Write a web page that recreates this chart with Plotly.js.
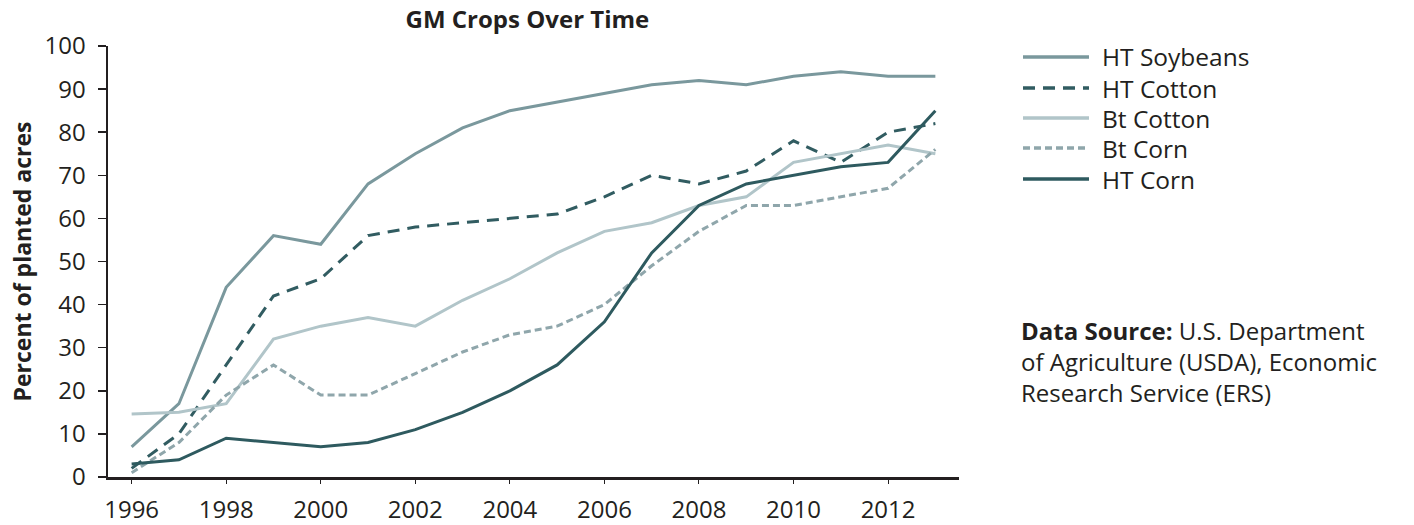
<!DOCTYPE html>
<html>
<head>
<meta charset="utf-8">
<script src="https://cdn.plot.ly/plotly-3.0.1.min.js"></script>
<style>html,body{margin:0;padding:0;background:#fff;}#chart{width:1414px;height:525px;}</style>
</head>
<body>
<div id="chart"></div>
<script>
const years = [1996,1997,1998,1999,2000,2001,2002,2003,2004,2005,2006,2007,2008,2009,2010,2011,2012,2013];
const htSoybeans = [7,17,44,56,54,68,75,81,85,87,89,91,92,91,93,94,93,93];
const htCotton   = [2,10,26,42,46,56,58,59,60,61,65,70,68,71,78,73,80,82];
const btCotton   = [14.6,15,17,32,35,37,35,41,46,52,57,59,63,65,73,75,77,75];
const btCorn     = [1,8,19,26,19,19,24,29,33,35,40,49,57,63,63,65,67,76];
const htCorn     = [3,4,9,8,7,8,11,15,20,26,36,52,63,68,70,72,73,85];

const seriesNames = ["HT Soybeans","HT Cotton","Bt Cotton","Bt Corn","HT Corn"];
const seriesValues = [htSoybeans, htCotton, btCotton, btCorn, htCorn];
const seriesColors = ["#7a989d","#315c61","#b1c5c9","#8fa6ab","#2e5a5f"];
const seriesDash = ["solid","12px,8px","solid","7px,4px","solid"];

const xTicks = [1996,1998,2000,2002,2004,2006,2008,2010,2012];
const yTicks = [0,10,20,30,40,50,60,70,80,90,100];

const FONT = "'Open Sans', sans-serif";
const TXT = "#231f20";

const traces = seriesNames.map((n,i)=>({
  x: years, y: seriesValues[i], name: n, type: "scatter", mode: "lines",
  line: {color: seriesColors[i], width: 3, dash: seriesDash[i]},
  showlegend: false, hoverinfo: "x+y+name"
}));

// plot area in px: left 108, right 959, top 46, bottom 477
const PL=108, PR=959, PT=46, PB=477;
const px2x = p => (p-PL)/(PR-PL);
const px2y = p => (PB-p)/(PB-PT);

const legendRows = [57,88,118,148,179];
const shapes = [];
const annotations = [];
seriesNames.forEach((n,i)=>{
  shapes.push({type:"line", xref:"paper", yref:"paper",
    x0: px2x(1023), x1: px2x(1089), y0: px2y(legendRows[i]), y1: px2y(legendRows[i]),
    line:{color: seriesColors[i], width: 3.5, dash: seriesDash[i]}});
  annotations.push({xref:"paper", yref:"paper", x: px2x(1100), y: px2y(legendRows[i]),
    xanchor:"left", yanchor:"middle", text: n, showarrow:false,
    font:{family:FONT, size:24.5, color:TXT}});
});
annotations.push({xref:"paper", yref:"paper", x: px2x(1019), y: px2y(361),
  xanchor:"left", yanchor:"middle", align:"left", showarrow:false,
  text: "<b>Data Source:</b> U.S. Department<br>of Agriculture (USDA), Economic<br>Research Service (ERS)",
  font:{family:FONT, size:24, color:TXT}});

const layout = {
  width: 1414, height: 525,
  margin: {l: PL, r: 1414-PR, t: PT, b: 525-PB},
  paper_bgcolor: "#fff", plot_bgcolor: "#fff",
  title: {text: "<b>GM Crops Over Time</b>", x: 0.373, xanchor: "center", y: 0.962, yanchor: "middle",
    font: {family: FONT, size: 24, color: TXT}},
  xaxis: {range: [1995.5, 2013.5], tickvals: xTicks, ticktext: xTicks.map(String),
    showgrid: false, zeroline: false, showline: true, linecolor: TXT, linewidth: 2.5,
    ticks: "outside", ticklen: 4, tickwidth: 1, tickcolor: TXT, ticklabelstandoff: 6,
    tickfont: {family: FONT, size: 24, color: TXT}},
  yaxis: {range: [0, 100], tickvals: yTicks, ticktext: yTicks.map(String),
    showgrid: false, zeroline: false, showline: true, linecolor: TXT, linewidth: 2.5,
    ticks: "outside", ticklen: 8, tickwidth: 1.5, tickcolor: TXT, ticklabelstandoff: 7,
    tickfont: {family: FONT, size: 24, color: TXT},
    title: {text: "<b>Percent of planted acres</b>", standoff: 7, font: {family: FONT, size: 23, color: TXT}}},
  shapes: shapes,
  annotations: annotations
};
Plotly.newPlot("chart", traces, layout, {displayModeBar: false, staticPlot: true});
</script>
</body>
</html>
